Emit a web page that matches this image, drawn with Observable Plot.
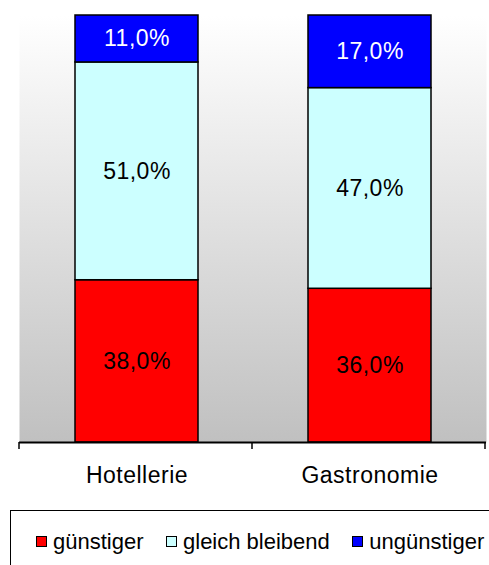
<!DOCTYPE html>
<html>
<head>
<meta charset="utf-8">
<script src="https://cdn.jsdelivr.net/npm/d3@7"></script>
<script src="https://cdn.jsdelivr.net/npm/@observablehq/plot@0.6"></script>
<style>
  html, body { margin: 0; padding: 0; background: #fff; overflow: hidden; }
  #wrap { position: relative; width: 489px; height: 565px; font-family: "Liberation Sans", Arial, sans-serif; }
  #legend { position: absolute; left: 10px; top: 510px; width: 500px; height: 80px; border: 1.5px solid #000; box-sizing: border-box;
            display: flex; flex-wrap: nowrap; align-items: flex-start; padding: 20px 0 0 24.5px; }
  #legend .item { display: flex; align-items: center; margin-right: 22px; font-size: 22px; line-height: 22px; color: #000; height: 22px; white-space: nowrap; flex-shrink: 0; }
  #legend .sw { width: 11px; height: 11px; box-sizing: border-box; border: 1.5px solid #000; margin-right: 6.5px; margin-bottom: 2px; flex-shrink: 0; }
</style>
</head>
<body>
<div id="wrap"></div>
<script>
const categories = ["Hotellerie", "Gastronomie"];
const seriesNames = ["günstiger", "gleich bleibend", "ungünstiger"];
const guenstiger = [38, 36];
const gleichBleibend = [51, 47];
const unguenstiger = [11, 17];
const seriesColors = ["#ff0000", "#ccffff", "#0000ff"];

const seriesValues = [guenstiger, gleichBleibend, unguenstiger];
const data = [];
seriesNames.forEach((s, si) => {
  categories.forEach((c, ci) => data.push({category: c, series: s, value: seriesValues[si][ci]}));
});
const fmt = v => v.toFixed(1).replace(".", ",") + "%";

const plot = Plot.plot({
  width: 489,
  height: 505,
  marginLeft: 19,
  marginRight: 3,
  marginTop: 15,
  marginBottom: 63,
  style: {fontFamily: "'Liberation Sans', Arial, sans-serif", fontSize: "23px", color: "#000", background: "transparent", letterSpacing: "0.5px"},
  x: {domain: categories, paddingInner: 0.4732, paddingOuter: 0.2366, tickSize: 0, tickPadding: 24, label: null},
  y: {domain: [0, 100], axis: null},
  color: {domain: seriesNames, range: seriesColors},
  marks: [
    Plot.frame({fill: "url(#bggrad)", stroke: null}),
    Plot.barY(data, {x: "category", y: "value", fill: "series", stroke: "#000", strokeWidth: 1.5}),
    Plot.text(data, Plot.stackY({x: "category", y: "value", text: d => d.series !== "ungünstiger" ? fmt(d.value) : null, fill: "#000", fontSize: 23})),
    Plot.text(data, Plot.stackY({x: "category", y: "value", text: d => d.series === "ungünstiger" ? fmt(d.value) : null, fill: "#fff", fontSize: 23})),
    Plot.ruleY([0], {stroke: "#000", strokeWidth: 2})
  ]
});

const svg = d3.select(plot);
const defs = svg.insert("defs", ":first-child");
const g = defs.append("linearGradient").attr("id", "bggrad").attr("x1", 0).attr("y1", 0).attr("x2", 0).attr("y2", 1);
g.append("stop").attr("offset", "0%").attr("stop-color", "#ffffff");
g.append("stop").attr("offset", "100%").attr("stop-color", "#c0c0c0");

// category boundary ticks below the axis line
const xs = plot.scale("x");
const ys = plot.scale("y");
const y0 = ys.apply(0);
const x0 = Math.min(...xs.range);
const bounds = d3.range(categories.length + 1).map(i => x0 + i * xs.step);
svg.append("g").selectAll("line").data(bounds).join("line")
  .attr("x1", d => d).attr("x2", d => d)
  .attr("y1", y0).attr("y2", y0 + 7)
  .attr("stroke", "#000").attr("stroke-width", 1.5);

const wrap = document.getElementById("wrap");
wrap.appendChild(plot);

const legend = document.createElement("div");
legend.id = "legend";
seriesNames.forEach((s, i) => {
  const item = document.createElement("div");
  item.className = "item";
  const sw = document.createElement("span");
  sw.className = "sw";
  sw.style.background = seriesColors[i];
  const t = document.createElement("span");
  t.textContent = s;
  item.appendChild(sw);
  item.appendChild(t);
  legend.appendChild(item);
});
wrap.appendChild(legend);
</script>
</body>
</html>
